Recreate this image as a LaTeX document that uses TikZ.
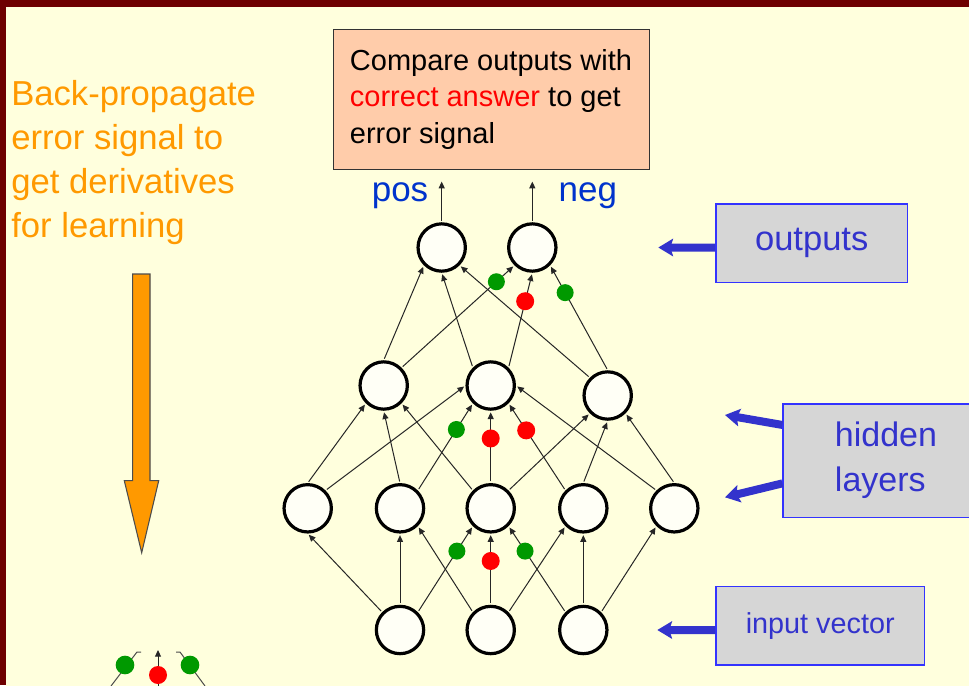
\documentclass[tikz,border=0pt]{standalone}
\usepackage{fontspec}
\setmainfont{Liberation Sans}
\usetikzlibrary{arrows.meta}
\definecolor{bgyellow}{HTML}{FFFFDD}
\definecolor{framered}{HTML}{6E0000}
\definecolor{peach}{HTML}{FFCCAA}
\definecolor{dotgreen}{HTML}{009900}
\definecolor{dotred}{HTML}{FF0000}
\definecolor{labelblue}{HTML}{0033CC}
\definecolor{boxblue}{HTML}{3333CC}
\definecolor{boxedge}{HTML}{3333FF}
\definecolor{boxgray}{HTML}{D6D6D6}
\definecolor{orangetext}{HTML}{FF9900}
\definecolor{neuronfill}{HTML}{FFFFF6}
\begin{document}
\begin{tikzpicture}[x=0.75pt,y=-0.75pt,
 neuron/.style={circle, draw=black, line width=2.4pt, fill=neuronfill, minimum size=35.5pt, inner sep=0pt},
 conn/.style={-{Triangle[length=5pt,width=4.5pt]}, line width=0.75pt, black!85, shorten >=1.2pt, shorten <=1.2pt},
 gdot/.style={circle, fill=dotgreen, minimum size=12.75pt, inner sep=0pt},
 rdot/.style={circle, fill=dotred, minimum size=13.5pt, inner sep=0pt},
 labelbox/.style={draw=boxedge, line width=0.9pt, fill=boxgray, text=boxblue, inner sep=0pt},
 bluearrow/.style={draw=boxblue, line width=6pt, -{Stealth[length=11pt,width=13pt,inset=2pt]}},
]
\useasboundingbox (0,0) rectangle (969,685);
\clip (0,0) rectangle (969,685);
% background and frame
\fill[framered] (0,0) rectangle (969,685);
\fill[bgyellow] (6,7) rectangle (975,690);

% left text and orange arrow
\node[anchor=north west, align=left, text=orangetext, font=\fontsize{26}{33}\selectfont, inner sep=0pt] (bp) at (11,80) {Back-propagate\\error signal to\\get derivatives\\for learning};
\draw[draw=black!70, line width=0.8pt, fill=orangetext]
  (132.7,274) -- (150,274) -- (150,480.7) -- (158.7,480.7) -- (141.7,552.7)
  -- (124.3,480.7) -- (132.7,480.7) -- cycle;

% compare box
\node[draw=black!80, line width=0.75pt, fill=peach, minimum width=237pt, minimum height=104.25pt, align=left, font=\fontsize{21.75}{27.5}\selectfont] (cmp) at (491,99.5) {Compare outputs with\\\textcolor{dotred}{correct answer} to get\\error signal};

% neurons
\node[neuron] (O1) at (441.7,247.5) {};
\node[neuron] (O2) at (532.3,247.5) {};
\node[neuron] (G1) at (383.7,385.5) {};
\node[neuron] (G2) at (490.7,385.5) {};
\node[neuron] (G3) at (607.7,395.5) {};
\node[neuron] (H1) at (307.7,508.3) {};
\node[neuron] (H2) at (400,508.3) {};
\node[neuron] (H3) at (490.7,508.3) {};
\node[neuron] (H4) at (583.3,508.3) {};
\node[neuron] (H5) at (674.3,508.3) {};
\node[neuron] (I1) at (400,630) {};
\node[neuron] (I2) at (490.7,630) {};
\node[neuron] (I3) at (583.3,630) {};

% input -> hidden 1
\draw[conn] (I1.north west) -- (H1.south);
\draw[conn] (I1.north) -- (H2.south);
\draw[conn] (I1.north east) -- node[gdot,pos=.71]{} (H3.south west);
\draw[conn] (I2.north west) -- (H2.south east);
\draw[conn] (I2.north) -- node[rdot,pos=.615]{} (H3.south);
\draw[conn] (I2.north east) -- (H4.south west);
\draw[conn] (I3.north west) -- node[gdot,pos=.71]{} (H3.south east);
\draw[conn] (I3.north) -- (H4.south);
\draw[conn] (I3.north east) -- (H5.south west);

% hidden 1 -> hidden 2
\draw[conn] (H1.north) -- (G1.south west);
\draw[conn] (H1.north east) -- (G2.west);
\draw[conn] (H2.north) -- (G1.south);
\draw[conn] (H2.north east) -- node[gdot,pos=.70]{} (G2.south west);
\draw[conn] (H3.north west) -- (G1.south east);
\draw[conn] (H3.north) -- node[rdot,pos=.617]{} (G2.south);
\draw[conn] (H3.north east) -- (G3.south west);
\draw[conn] (H4.north west) -- node[rdot,pos=.69]{} (G2.south east);
\draw[conn] (H4.north) -- (G3.south);
\draw[conn] (H5.north west) -- (G2.east);
\draw[conn] (H5.north) -- (G3.south east);

% hidden 2 -> outputs
\draw[conn] (G1.north) -- (O1.south west);
\draw[conn] (G1.north east) -- node[gdot,pos=.84]{} (O2.south west);
\draw[conn] (G2.north west) -- (O1.south);
\draw[conn] (G2.north east) -- node[rdot,pos=.70]{} (O2.south);
\draw[conn] (G3.north west) -- (O1.south east);
\draw[conn] (G3.north) -- node[gdot,pos=.74]{} (O2.south east);

% output arrows and labels
\coordinate (o1top) at (441.7,180);
\coordinate (o2top) at (532.3,180);
\draw[conn] (O1.north) -- (o1top);
\draw[conn] (O2.north) -- (o2top);
\node[text=labelblue, font=\fontsize{26.25}{30}\selectfont, anchor=base, inner sep=0pt] (pos) at (400,201.7) {pos};
\node[text=labelblue, font=\fontsize{26.25}{30}\selectfont, anchor=base, inner sep=0pt] (neg) at (587.8,201.7) {neg};

% right label boxes
\node[labelbox, minimum width=143.5pt, minimum height=59pt, font=\fontsize{25.9}{31}\selectfont] (outb) at (811.7,243.3) {outputs};
\node[labelbox, minimum width=154.5pt, minimum height=85pt, align=left, font=\fontsize{25.5}{33.75}\selectfont] (hidb) at (886,460.7) {hidden\\layers};
\node[labelbox, minimum width=156.2pt, minimum height=58.7pt, font=\fontsize{21.6}{26}\selectfont] (inb) at (820.2,625.8) {input vector};

\coordinate (outtip) at (658.3,247.5);
\coordinate (hidtipA) at (725,415);
\coordinate (hidtipB) at (725,497.3);
\coordinate (intip) at (657.3,630);
\draw[bluearrow] ([yshift=-3.2pt]outb.west) -- (outtip);
\draw[bluearrow] ([yshift=26.8pt]hidb.west) -- (hidtipA);
\draw[bluearrow] ([yshift=-17pt]hidb.west) -- (hidtipB);
\draw[bluearrow] ([yshift=-3.2pt]inb.west) -- (intip);

% partial fragment at bottom left
\draw[line width=0.75pt, black!70] (111,686) -- (137,652) -- (141,652);
\draw[line width=0.75pt, black!70] (205,686) -- (180,652) -- (176,652);
\draw[line width=0.75pt, black!85, -{Triangle[length=5pt,width=4.5pt]}] (158,686) -- (158,650);
\node[gdot, minimum size=14pt] (fg1) at (125,665) {};
\node[gdot, minimum size=14pt] (fg2) at (190,665) {};
\node[rdot] (fr) at (158,675) {};
\end{tikzpicture}
\end{document}
